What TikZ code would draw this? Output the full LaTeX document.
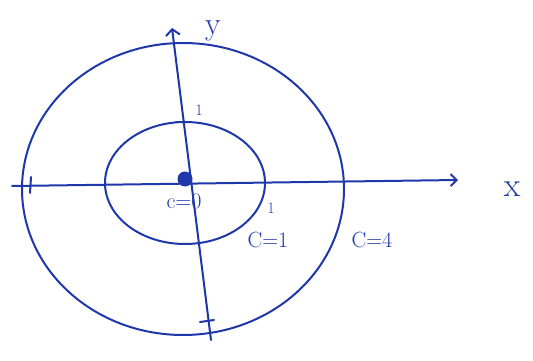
\documentclass[tikz,border=0pt]{standalone}
\usetikzlibrary{arrows.meta}
\definecolor{penblue}{RGB}{30,55,170}

\begin{document}
\begin{tikzpicture}[x=1pt,y=1pt,
  pen/.style={draw=penblue,line width=2pt,line cap=round},
  lbl/.style={text=penblue,inner sep=0pt,font=\fontsize{22}{24}\selectfont}]
\path[use as bounding box] (0,0) rectangle (533,361);
% axes
\coordinate (xl) at (12,175);
\coordinate (xr) at (458,181);
\coordinate (yb) at (211,21);
\coordinate (yt) at (172,333);
\draw[pen,-{Straight Barb[length=6pt,width=12pt]}] (xl) -- (xr);
\draw[pen,-{Straight Barb[length=6pt,width=14pt]}] (yb) -- (yt);
% level curves
\draw[pen] (185,178) ellipse (80 and 61);
\draw[pen] (183,172) ellipse (161 and 146);
% ticks
\draw[pen] (30,168) -- (31,184);
\draw[pen] (200,39) -- (214,41);
\draw[pen] (176,239) -- (188,239);
\node[circle,fill=penblue,minimum size=15pt,inner sep=0pt] (o) at (185,182) {};
\node[lbl,font=\fontsize{32}{34}\selectfont] (ylab) at (213,330) {y};
\node[lbl,font=\fontsize{34}{36}\selectfont] (xlab) at (512,172) {x};
\node[lbl,font=\fontsize{16}{18}\selectfont] (one1) at (199,251) {1};
\node[lbl,font=\fontsize{16}{18}\selectfont] (one2) at (271,153) {1};
\node[lbl] (c0) at (184,160) {c=0};
\node[lbl] (c1) at (268,121) {C=1};
\node[lbl] (c4) at (372,121) {C=4};
\end{tikzpicture}
\end{document}
